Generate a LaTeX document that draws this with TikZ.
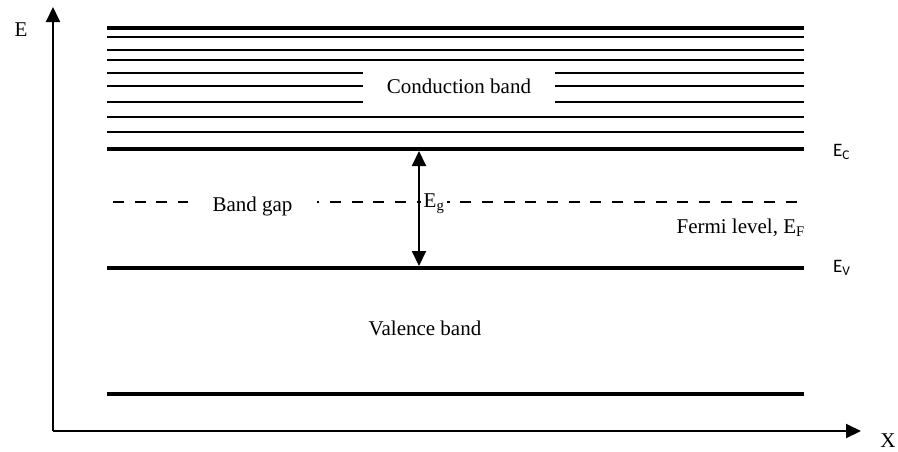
\documentclass[tikz,border=0pt]{standalone}
\usepackage{fontspec}
\setmainfont{Liberation Serif}
\newfontfamily\calfont{Carlito}
\usetikzlibrary{arrows.meta}

\tikzset{
    bandedge/.style={line width=4pt},%band edges
    sublevel/.style={line width=2pt},
    axisline/.style={->,line width=2pt},
    txt/.style={font=\fontsize{21}{25}\selectfont,inner sep=1pt},
    edgetxt/.style={font=\calfont\fontsize{19}{22}\selectfont,inner sep=1pt,anchor=west}
    }

\begin{document}
\begin{tikzpicture}[line cap=butt,line join=miter,>={Triangle[length=15pt,width=14pt]},x=1pt,y=-1pt]
\useasboundingbox (0,0) rectangle (898,451);
% axes
\coordinate (origin) at (53,431);
\coordinate (etop) at (53,7);
\coordinate (xend) at (861,431);
\draw[axisline] (origin) -- (etop);
\draw[axisline] (origin) -- (xend);
\node[txt] (elabel) at (21,30) {E};
\node[txt] (xlabel) at (888,441) {X};
% conduction band
\foreach \y in {37.3,50,60,72.7,86,102.3,116.7,131.7}
\draw[sublevel] (107,\y) -- (804,\y);
\coordinate (cbl) at (107,27.7);
\coordinate (cbr) at (804,27.7);
\draw[bandedge] (cbl) -- (cbr);
\coordinate (ecl) at (107,149);
\coordinate (ecr) at (804,149);
\draw[bandedge] (ecl) -- (ecr);
\node[txt,fill=white,minimum width=192,minimum height=47] (cband) at (459,86.5) {Conduction band};
% valence band
\coordinate (evl) at (107,268);
\coordinate (evr) at (804,268);
\draw[bandedge] (evl) -- (evr);
\coordinate (vbl) at (107,394);
\coordinate (vbr) at (804,394);
\draw[bandedge] (vbl) -- (vbr);
\node[txt] (vband) at (425,328) {Valence band};
% fermi level
\coordinate (efl) at (113,202);
\coordinate (efr) at (804,202);
\draw[line width=1.6pt,dash pattern=on 11pt off 10.7pt] (efl) -- (efr);
\node[txt,fill=white,minimum width=129] (gap) at (252.5,206) {Band gap};
\node[txt,fill=white,anchor=west,inner xsep=3pt] (eg) at (420.5,204) {E\textsubscript{g}};
\node[txt,anchor=east] (fermi) at (806,228) {Fermi level, E\textsubscript{F}};
% gap arrow
\coordinate (gtop) at (419,151);
\coordinate (gbot) at (419,266);
\draw[<->,line width=2pt] (gtop) -- (gbot);
\node[edgetxt] (ec) at (832,152) {E\textsubscript{C}};
\node[edgetxt] (ev) at (832,268) {E\textsubscript{V}};
\end{tikzpicture}
\end{document}
